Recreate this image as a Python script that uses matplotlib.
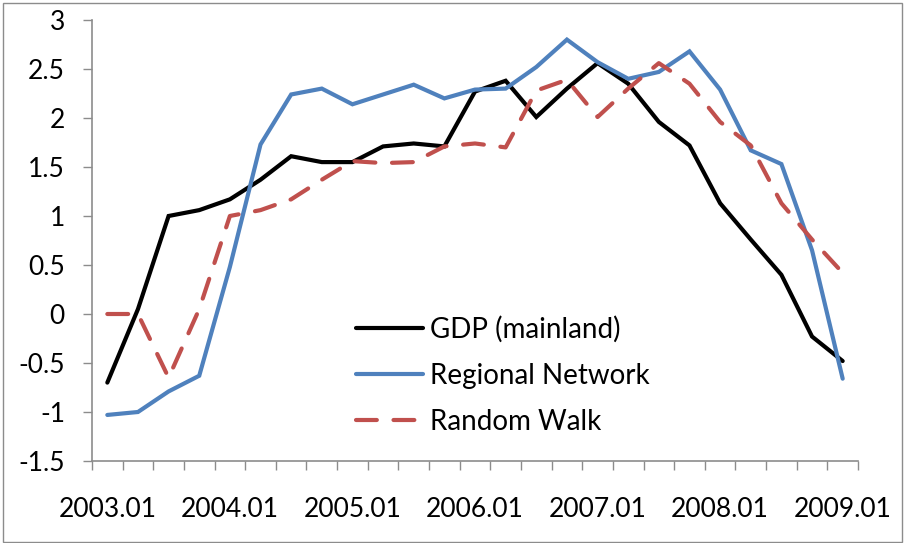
import matplotlib
matplotlib.use("Agg")
import matplotlib.pyplot as plt
from matplotlib.patches import Rectangle

plt.rcParams['font.family'] = ['Lato', 'DejaVu Sans']

quarters = [f"{y}.{q:02d}" for y in range(2003, 2009) for q in (1, 2, 3, 4)] + ["2009.01"]
gdp = [-0.70, 0.05, 1.00, 1.06, 1.17, 1.37, 1.61, 1.55, 1.55, 1.71, 1.74, 1.71,
       2.27, 2.38, 2.01, 2.30, 2.56, 2.35, 1.96, 1.72, 1.13, 0.76, 0.40, -0.23, -0.48]
regional = [-1.03, -1.00, -0.79, -0.63, 0.48, 1.73, 2.24, 2.30, 2.14, 2.24, 2.34, 2.20,
            2.29, 2.30, 2.52, 2.80, 2.57, 2.40, 2.47, 2.68, 2.29, 1.67, 1.53, 0.65, -0.66]
random_walk = [0.00, 0.00, -0.65, 0.05, 1.00, 1.06, 1.17, 1.37, 1.56, 1.54, 1.55, 1.71,
               1.74, 1.70, 2.28, 2.39, 2.01, 2.30, 2.56, 2.35, 1.96, 1.72, 1.13, 0.76, 0.42]
yticks = [-1.5, -1, -0.5, 0, 0.5, 1, 1.5, 2, 2.5, 3]
ytick_labels = ["-1.5", "-1", "-0.5", "0", "0.5", "1", "1.5", "2", "2.5", "3"]

W, H = 905, 543
fig = plt.figure(figsize=(W / 100, H / 100), dpi=100)
fig.patch.set_facecolor("white")
fig.patches.append(Rectangle((3 / W, 1.5 / H), (902 - 3) / W, (540 - 1.5) / H,
                             transform=fig.transFigure, fill=False,
                             edgecolor="#8c8c8c", linewidth=1.0))

ax = fig.add_axes([92 / W, 1 - 461 / H, (858 - 92) / W, (461 - 20) / H])
x = list(range(len(quarters)))
ax.plot(x, gdp, color="black", lw=3, solid_capstyle="round", solid_joinstyle="miter",
        label="GDP (mainland)")
ax.plot(x, regional, color="#4F81BD", lw=3, solid_capstyle="round", solid_joinstyle="miter",
        label="Regional Network")
ax.plot(x, random_walk, color="#C0504D", lw=3, dashes=(5, 4), dash_capstyle="round",
        label="Random Walk")

ax.set_xlim(-0.5, len(quarters) - 0.5)
ax.set_ylim(-1.5, 3)
ax.set_yticks(yticks)
ax.set_yticklabels(ytick_labels)
ax.set_xticks([i - 0.5 for i in range(len(quarters) + 1)], minor=False)
ax.set_xticklabels([])
ax.set_xticks(x[::4], minor=True)
ax.set_xticklabels(quarters[::4], minor=True)
ax.tick_params(axis="x", which="minor", length=0, pad=26, labelsize=19)
ax.tick_params(axis="x", which="major", length=6.5, width=1, color="#8c8c8c")
ax.tick_params(axis="y", length=6.5, width=1, color="#8c8c8c", pad=13, labelsize=19)

for s in ("top", "right"):
    ax.spines[s].set_visible(False)
for s in ("left", "bottom"):
    ax.spines[s].set_color("#8c8c8c")
    ax.spines[s].set_linewidth(1.2)

leg = ax.legend(loc="upper left", bbox_to_anchor=((356 - 92) / (858 - 92), 1 - (316 - 20) / (461 - 20)),
                frameon=False, fontsize=20, handlelength=2.4, handletextpad=0.25,
                labelspacing=0.72, borderpad=0, borderaxespad=0)

fig.savefig("out.png", dpi=100, facecolor="white")
